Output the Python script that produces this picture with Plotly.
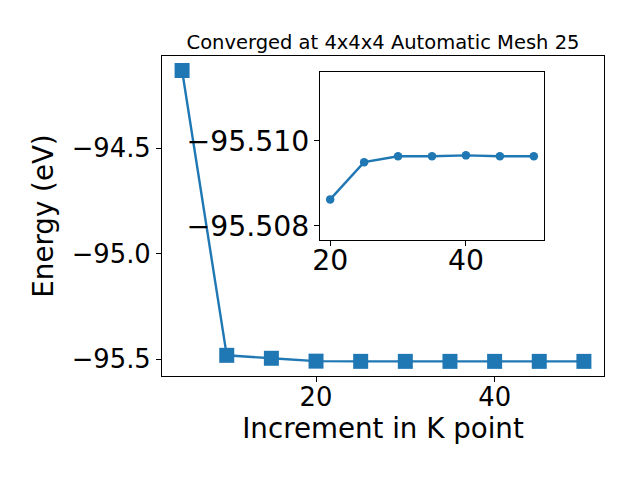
import plotly.graph_objects as go

kpoints = [5, 10, 15, 20, 25, 30, 35, 40, 45, 50]
energy = [-94.133, -95.481, -95.495, -95.5086, -95.5095, -95.50964, -95.50964, -95.50966, -95.50964, -95.50964]

inset_k = [20, 25, 30, 35, 40, 45, 50]
inset_e = [-95.50862, -95.5095, -95.50964, -95.50964, -95.50966, -95.50964, -95.50964]

main_yticks = [-95.5, -95.0, -94.5]
main_yticktext = ["\u221295.5", "\u221295.0", "\u221294.5"]
main_xticks = [20, 40]
inset_yticks = [-95.510, -95.508]
inset_yticktext = ["\u221295.510", "\u221295.508"]
inset_xticks = [20, 40]

title = "Converged at 4x4x4 Automatic Mesh 25"
xlabel = "Increment in K point"
ylabel = "Energy (eV)"

blue = "#1f77b4"
font = "DejaVu Sans"

fig = go.Figure()
fig.add_trace(go.Scatter(x=kpoints, y=energy, mode="lines+markers",
                         line=dict(color=blue, width=2.4),
                         marker=dict(symbol="square", size=15, color=blue),
                         xaxis="x", yaxis="y", showlegend=False))
fig.add_trace(go.Scatter(x=inset_k, y=inset_e, mode="lines+markers",
                         line=dict(color=blue, width=2.4),
                         marker=dict(symbol="circle", size=8.5, color=blue),
                         xaxis="x2", yaxis="y2", showlegend=False))

def axis_common(size):
    return dict(showline=True, mirror=True, linecolor="black", linewidth=1.1,
                ticks="outside", ticklen=5, tickwidth=1.1, tickcolor="black",
                showgrid=False, zeroline=False,
                tickfont=dict(family=font, size=size, color="black"))

fig.update_layout(
    width=640, height=480,
    margin=dict(l=162, r=36, t=56, b=104),
    paper_bgcolor="white", plot_bgcolor="white",
    font=dict(family=font, color="black"),
    title=dict(text=title, font=dict(family=font, size=19.5, color="black"),
               x=(162 + 604) / 2 / 640, xanchor="center",
               y=1 - 42 / 480, yanchor="middle", xref="container", yref="container"),
    xaxis=dict(domain=[0, 1], range=[2.75, 52.25], tickvals=main_xticks,
               ticklabelstandoff=-7,
               title=dict(text=xlabel, font=dict(family=font, size=27.7, color="black"), standoff=6),
               anchor="y", **axis_common(25.8)),
    yaxis=dict(domain=[0, 1], range=[-95.5789, -94.0643], tickvals=main_yticks,
               ticktext=main_yticktext, ticklabelstandoff=0,
               title=dict(text=ylabel, font=dict(family=font, size=27.7, color="black"), standoff=10),
               anchor="x", **axis_common(25.8)),
    xaxis2=dict(domain=[(320 - 162) / 442, (544 - 162) / 442], range=[18.5, 51.5],
                tickvals=inset_xticks, ticklabelstandoff=-10, anchor="y2", **axis_common(28.3)),
    yaxis2=dict(domain=[(376 - 240) / 320, (376 - 72) / 320], range=[-95.50766, -95.51163],
                tickvals=inset_yticks, ticktext=inset_yticktext, ticklabelstandoff=-1,
                anchor="x2", **axis_common(28.3)),
)

fig.add_shape(type="rect", xref="x2 domain", yref="y2 domain", x0=0, x1=1, y0=0, y1=1,
              fillcolor="white", line=dict(width=0), layer="below")

fig.write_html("out.html", config={"displayModeBar": False},
               post_script="document.body.style.margin='0';")
